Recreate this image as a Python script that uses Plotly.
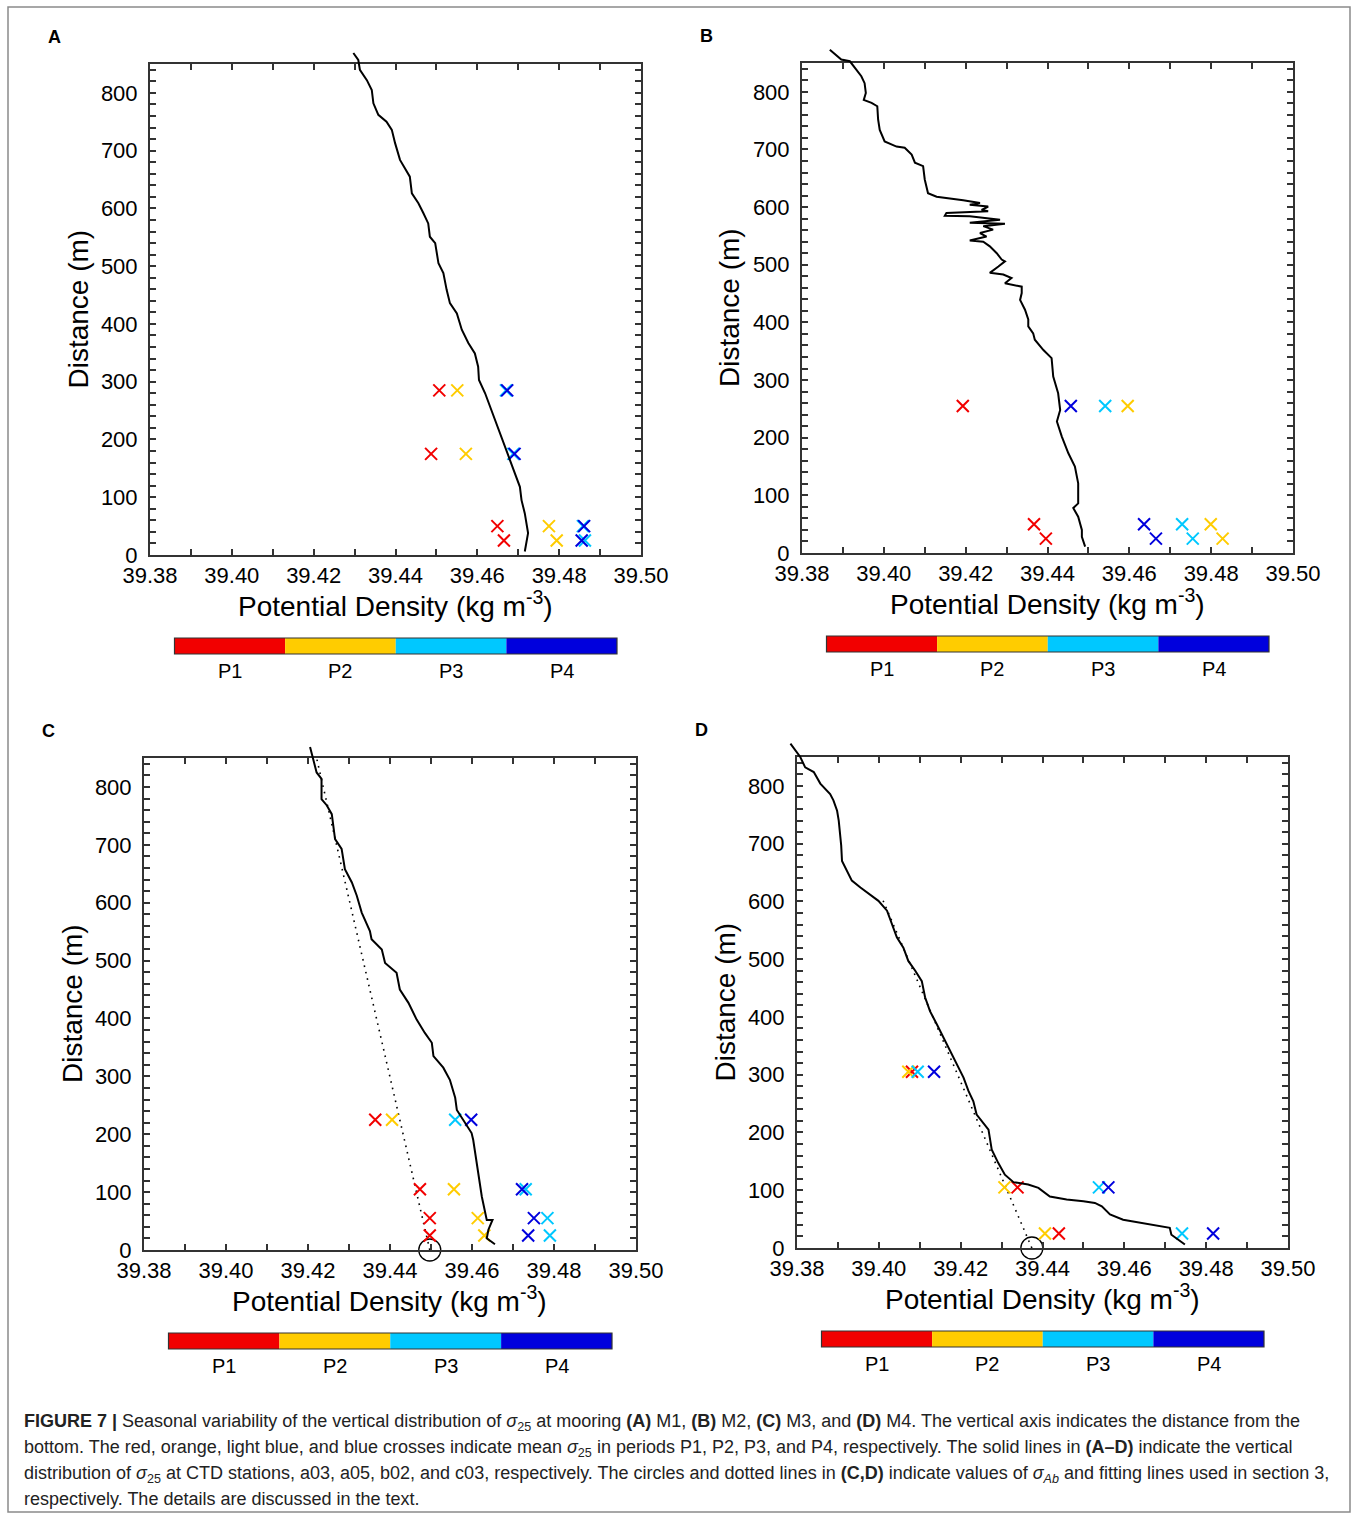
import plotly.graph_objects as go

W, H = 1358, 1517

PERIODS = ["P1", "P2", "P3", "P4"]
PERIOD_COLORS = ["#f20000", "#ffcc00", "#00c8ff", "#0000dd"]
X_TICKS = [39.38, 39.40, 39.42, 39.44, 39.46, 39.48, 39.50]
Y_TICKS = [0, 100, 200, 300, 400, 500, 600, 700, 800]
PANEL_LABELS = ["A", "B", "C", "D"]

# ---------------- Panel A : mooring M1, CTD a03 ----------------
A_height = [285, 175, 50, 25]
A_P1 = [39.4507, 39.4487, 39.4649, 39.4665]
A_P2 = [39.4551, 39.4572, 39.4775, 39.4794]
A_P3 = [39.4670, 39.4688, 39.4858, 39.4863]
A_P4 = [39.4673, 39.4691, 39.4861, 39.4855]
A_ctd_dist = [869, 857, 840, 822, 805, 782, 762, 750, 736, 713, 684, 670, 655, 626, 609, 592,
              574, 551, 540, 505, 488, 459, 436, 418, 390, 367, 349, 326, 303, 280, 257, 234,
              211, 188, 164, 141, 118, 95, 72, 38, 26, 6]
A_ctd_sigma = [39.4297, 39.4309, 39.4313, 39.4330, 39.4342, 39.4346, 39.4358, 39.4378, 39.4391,
               39.4399, 39.4411, 39.4423, 39.4435, 39.4440, 39.4456, 39.4468, 39.4480, 39.4484,
               39.4497, 39.4505, 39.4517, 39.4525, 39.4533, 39.4550, 39.4562, 39.4578, 39.4594,
               39.4602, 39.4604, 39.4619, 39.4631, 39.4643, 39.4655, 39.4668, 39.4680, 39.4692,
               39.4704, 39.4708, 39.4716, 39.4724, 39.4721, 39.4716]

# ---------------- Panel B : mooring M2, CTD a05 ----------------
B_height = [255, 50, 25]
B_P1 = [39.4193, 39.4367, 39.4396]
B_P2 = [39.4596, 39.4799, 39.4828]
B_P3 = [39.4541, 39.4729, 39.4755]
B_P4 = [39.4457, 39.4636, 39.4665]
B_ctd_dist = [873, 856, 853, 839, 827, 815, 798, 786, 781, 775, 752, 734, 714, 705, 703, 691,
              677, 671, 648, 624, 618, 612, 607, 604, 601, 595, 593, 590, 585, 584, 578, 573,
              571, 567, 561, 555, 549, 542, 540, 532, 520, 509, 506, 497, 486, 483, 477, 468,
              462, 451, 439, 422, 405, 393, 381, 370, 352, 338, 306, 277, 248, 228, 202, 173,
              150, 121, 86, 78, 63, 40, 28, 11]
B_ctd_sigma = [39.3868, 39.3896, 39.3917, 39.3933, 39.3945, 39.3953, 39.3956, 39.3951, 39.3970,
               39.3984, 39.3986, 39.3990, 39.4002, 39.4031, 39.4051, 39.4068, 39.4076, 39.4096,
               39.4100, 39.4108, 39.4129, 39.4194, 39.4235, 39.4210, 39.4255, 39.4239, 39.4255,
               39.4153, 39.4149, 39.4210, 39.4284, 39.4210, 39.4296, 39.4243, 39.4267, 39.4235,
               39.4251, 39.4210, 39.4243, 39.4259, 39.4276, 39.4288, 39.4296, 39.4280, 39.4259,
               39.4292, 39.4312, 39.4296, 39.4337, 39.4337, 39.4333, 39.4345, 39.4353, 39.4353,
               39.4365, 39.4369, 39.4390, 39.4410, 39.4414, 39.4426, 39.4431, 39.4423, 39.4435,
               39.4451, 39.4467, 39.4475, 39.4475, 39.4463, 39.4475, 39.4484, 39.4484, 39.4492]

# ---------------- Panel C : mooring M3, CTD b02 ----------------
C_height = [225, 105, 55, 25]
C_P1 = [39.4364, 39.4473, 39.4497, 39.4497]
C_P2 = [39.4405, 39.4556, 39.4614, 39.4630]
C_P3 = [39.4559, 39.4731, 39.4784, 39.4790]
C_P4 = [39.4598, 39.4722, 39.4751, 39.4737]
C_ctd_dist = [869, 848, 825, 814, 779, 768, 753, 710, 693, 658, 635, 612, 583, 551, 537, 519,
              496, 479, 450, 427, 398, 375, 358, 335, 315, 294, 263, 242, 219, 202, 190, 133,
              92, 52, 52, 35, 20, 10]
C_ctd_sigma = [39.4205, 39.4213, 39.4221, 39.4233, 39.4233, 39.4246, 39.4258, 39.4266, 39.4282,
               39.4290, 39.4307, 39.4319, 39.4331, 39.4351, 39.4355, 39.4380, 39.4388, 39.4416,
               39.4424, 39.4445, 39.4465, 39.4485, 39.4502, 39.4506, 39.4530, 39.4546, 39.4559,
               39.4563, 39.4583, 39.4599, 39.4603, 39.4615, 39.4624, 39.4636, 39.4650, 39.4640,
               39.4636, 39.4656]
C_fit_dist = [0, 865]
C_fit_sigma = [39.4497, 39.4216]
C_sigma_Ab = 39.4497

# ---------------- Panel D : mooring M4, CTD c03 ----------------
D_height = [305, 105, 25]
D_P1 = [39.4081, 39.4339, 39.4440]
D_P2 = [39.4072, 39.4307, 39.4406]
D_P3 = [39.4095, 39.4538, 39.4741]
D_P4 = [39.4135, 39.4561, 39.4817]
D_ctd_dist = [873, 858, 850, 832, 824, 804, 786, 775, 757, 740, 717, 697, 670, 653, 636, 624,
              613, 601, 584, 561, 538, 520, 497, 480, 462, 434, 410, 387, 364, 341, 318, 295,
              272, 254, 231, 205, 170, 147, 127, 114, 110, 104, 89, 84, 81, 78, 72, 58, 49, 44,
              40, 35, 23, 14, 6]
D_ctd_sigma = [39.3784, 39.3800, 39.3808, 39.3820, 39.3841, 39.3857, 39.3881, 39.3889, 39.3898,
               39.3902, 39.3906, 39.3908, 39.3910, 39.3922, 39.3934, 39.3955, 39.3975, 39.3999,
               39.4020, 39.4032, 39.4044, 39.4060, 39.4072, 39.4089, 39.4105, 39.4113, 39.4125,
               39.4142, 39.4158, 39.4174, 39.4191, 39.4207, 39.4219, 39.4231, 39.4239, 39.4268,
               39.4276, 39.4292, 39.4308, 39.4329, 39.4365, 39.4390, 39.4418, 39.4459, 39.4500,
               39.4528, 39.4545, 39.4565, 39.4597, 39.4638, 39.4679, 39.4711, 39.4715, 39.4731,
               39.4748]
D_fit_dist = [0, 607]
D_fit_sigma = [39.4374, 39.4007]
D_sigma_Ab = 39.4374

X_RANGE = [39.38, 39.50]
Y_RANGE = [0, 850]

# panel plot-area boxes in pixels: (left, right, top, bottom)
BOXES = [(150, 641, 64, 555), (802, 1293, 63, 553), (144, 636, 758, 1250), (797, 1288, 757, 1248)]

panels = [
    dict(h=A_height, p=[A_P1, A_P2, A_P3, A_P4], cd=A_ctd_dist, cs=A_ctd_sigma),
    dict(h=B_height, p=[B_P1, B_P2, B_P3, B_P4], cd=B_ctd_dist, cs=B_ctd_sigma),
    dict(h=C_height, p=[C_P1, C_P2, C_P3, C_P4], cd=C_ctd_dist, cs=C_ctd_sigma,
         fd=C_fit_dist, fs=C_fit_sigma, ab=C_sigma_Ab),
    dict(h=D_height, p=[D_P1, D_P2, D_P3, D_P4], cd=D_ctd_dist, cs=D_ctd_sigma,
         fd=D_fit_dist, fs=D_fit_sigma, ab=D_sigma_Ab),
]


def fx(p):
    return p / W


def fy(p):
    return 1 - p / H


fig = go.Figure()
layout = {}
annotations = []
shapes = []
EXT_L, EXT_T = 15, 25
AXIS_COLOR = "#333333"
TICKFONT = dict(family="Arial", size=22, color="black")

for i, (pan, box) in enumerate(zip(panels, BOXES)):
    n = i + 1
    ne = i + 5
    l, r, t, b = box
    xa = dict(domain=[fx(l), fx(r)], range=X_RANGE, showgrid=False, zeroline=False,
              showline=True, linecolor=AXIS_COLOR, linewidth=2, mirror="ticks",
              ticks="inside", ticklen=6, tickwidth=1.5, tickcolor=AXIS_COLOR,
              tickvals=X_TICKS, ticktext=["%.2f" % v for v in X_TICKS], automargin=False,
              tickfont=TICKFONT, anchor="y%d" % n,
              minor=dict(dtick=0.01, tick0=39.38, ticks="inside", ticklen=6, tickwidth=1.5,
                         tickcolor=AXIS_COLOR))
    ya = dict(domain=[fy(b), fy(t)], range=Y_RANGE, showgrid=False, zeroline=False,
              showline=True, linecolor=AXIS_COLOR, linewidth=2, mirror="ticks",
              ticks="inside", ticklen=6, tickwidth=1.5, tickcolor=AXIS_COLOR, automargin=False,
              tickvals=Y_TICKS, tickfont=TICKFONT, anchor="x%d" % n, ticklabelstandoff=6,
              minor=dict(dtick=20, tick0=0, ticks="inside", ticklen=6, tickwidth=1.5,
                         tickcolor=AXIS_COLOR))
    layout["xaxis%d" % n] = xa
    layout["yaxis%d" % n] = ya
    # extended hidden axes so the CTD profile can run past the frame
    xr = X_RANGE[1] - X_RANGE[0]
    yr = Y_RANGE[1] - Y_RANGE[0]
    layout["xaxis%d" % ne] = dict(domain=[fx(l - EXT_L), fx(r)],
                                  range=[X_RANGE[0] - EXT_L * xr / (r - l), X_RANGE[1]],
                                  visible=False, automargin=False, anchor="y%d" % ne)
    layout["yaxis%d" % ne] = dict(domain=[fy(b), fy(t - EXT_T)],
                                  range=[Y_RANGE[0], Y_RANGE[1] + EXT_T * yr / (b - t)],
                                  visible=False, automargin=False, anchor="x%d" % ne)

    fig.add_trace(go.Scatter(x=pan["cs"], y=pan["cd"], mode="lines",
                             line=dict(color="black", width=2),
                             xaxis="x%d" % ne, yaxis="y%d" % ne, showlegend=False))
    if "fd" in pan:
        fig.add_trace(go.Scatter(x=pan["fs"], y=pan["fd"], mode="lines",
                                 line=dict(color="black", width=1.6, dash="1.6px,5px"),
                                 xaxis="x%d" % n, yaxis="y%d" % n, showlegend=False))
        fig.add_trace(go.Scatter(x=[pan["ab"]], y=[0], mode="markers", cliponaxis=False,
                                 marker=dict(symbol="circle-open", size=22, color="black",
                                             line=dict(width=1.3, color="black")),
                                 xaxis="x%d" % n, yaxis="y%d" % n, showlegend=False))
    for k in range(4):
        fig.add_trace(go.Scatter(x=pan["p"][k], y=pan["h"], mode="markers", cliponaxis=False,
                                 marker=dict(symbol="x-thin", size=12,
                                             line=dict(width=2, color=PERIOD_COLORS[k])),
                                 xaxis="x%d" % n, yaxis="y%d" % n, showlegend=False,
                                 name=PERIODS[k]))

    # axis titles
    annotations.append(dict(text="Potential Density (kg m<sup>-3</sup>)", xref="paper",
                            yref="paper", x=fx((l + r) / 2), y=fy(b + 49), showarrow=False,
                            xanchor="center", yanchor="middle",
                            font=dict(family="Arial", size=28, color="black")))
    annotations.append(dict(text="Distance (m)", xref="paper", yref="paper",
                            x=fx(l - 72), y=fy((t + b) / 2), showarrow=False,
                            textangle=-90, xanchor="center", yanchor="middle",
                            font=dict(family="Arial", size=28, color="black")))
    # panel label
    annotations.append(dict(text="<b>%s</b>" % PANEL_LABELS[i], xref="paper", yref="paper",
                            x=fx(l - 96), y=fy(t - 27), showarrow=False, xanchor="center",
                            yanchor="middle", font=dict(family="Arial", size=18, color="black")))
    # period colour key
    bx0, bx1 = l + 24.5, r - 24
    by0, by1 = b + 83, b + 99
    seg = (bx1 - bx0) / 4
    for k in range(4):
        shapes.append(dict(type="rect", xref="paper", yref="paper",
                           x0=fx(bx0 + k * seg), x1=fx(bx0 + (k + 1) * seg),
                           y0=fy(by1), y1=fy(by0), fillcolor=PERIOD_COLORS[k],
                           line=dict(width=0)))
        annotations.append(dict(text=PERIODS[k], xref="paper", yref="paper",
                                x=fx(bx0 + (k + 0.5) * seg), y=fy(by1 + 17), showarrow=False,
                                xanchor="center", yanchor="middle",
                                font=dict(family="Arial", size=20, color="black")))
    shapes.append(dict(type="rect", xref="paper", yref="paper", x0=fx(bx0), x1=fx(bx1),
                       y0=fy(by1), y1=fy(by0), line=dict(color="#333333", width=1.2)))

# outer frame
shapes.append(dict(type="rect", xref="paper", yref="paper", x0=fx(8), x1=fx(1350),
                   y0=fy(1512), y1=fy(7), line=dict(color="#8a8a8a", width=1.5)))

CAPTION = [
    "<b>FIGURE 7 |</b> Seasonal variability of the vertical distribution of <i>σ</i><sub>25</sub> at mooring "
    "<b>(A)</b> M1, <b>(B)</b> M2, <b>(C)</b> M3, and <b>(D)</b> M4. The vertical axis indicates the distance from the",
    "bottom. The red, orange, light blue, and blue crosses indicate mean <i>σ</i><sub>25</sub> in periods P1, P2, P3, "
    "and P4, respectively. The solid lines in <b>(A–D)</b> indicate the vertical",
    "distribution of <i>σ</i><sub>25</sub> at CTD stations, a03, a05, b02, and c03, respectively. The circles and "
    "dotted lines in <b>(C,D)</b> indicate values of <i>σ<sub>Ab</sub></i> and fitting lines used in section 3,",
    "respectively. The details are discussed in the text.",
]
CAPTION_Y = [1422, 1448, 1474, 1499]
for txt, yy in zip(CAPTION, CAPTION_Y):
    annotations.append(dict(text=txt, xref="paper", yref="paper", x=fx(22), y=fy(yy),
                            showarrow=False, xanchor="left", yanchor="middle",
                            font=dict(family="Arial", size=18, color="#222222")))

fig.update_layout(template="none", width=W, height=H,
                  margin=dict(l=0, r=0, t=0, b=0, pad=0, autoexpand=False),
                  paper_bgcolor="white", plot_bgcolor="rgba(0,0,0,0)",
                  annotations=annotations, shapes=shapes, showlegend=False, **layout)

fig.write_html("out.html")
